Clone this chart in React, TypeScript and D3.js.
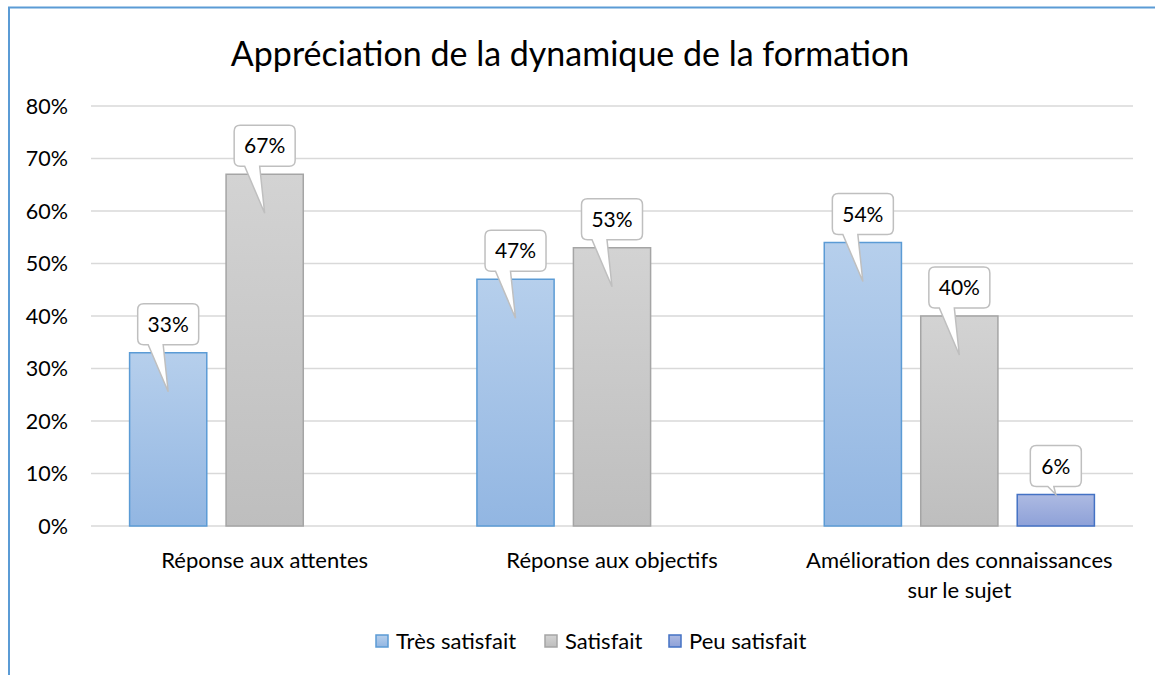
import * as d3 from "d3";

// values (percent)
const categories = [
  ["Réponse aux attentes"],
  ["Réponse aux objectifs"],
  ["Amélioration des connaissances", "sur le sujet"],
];
const series = ["Très satisfait", "Satisfait", "Peu satisfait"];
const tresSatisfait = [33, 47, 54];
const satisfait = [67, 53, 40];
const peuSatisfait = [null, null, 6];
const yTicks = [0, 10, 20, 30, 40, 50, 60, 70, 80];

const W = 1155;
const H = 675;
const FONT = "Lato, 'Open Sans', sans-serif";

const COLORS = [
  { top: "#b6cfec", bottom: "#92b6e2", stroke: "#5b9bd5" },
  { top: "#d3d3d3", bottom: "#bebebe", stroke: "#a5a5a5" },
  { top: "#adbae2", bottom: "#8ea1d8", stroke: "#4472c4" },
];

export default function App() {
  const plot = { left: 91, right: 1133, top: 106, bottom: 526 };
  const values = [tresSatisfait, satisfait, peuSatisfait];

  const x0 = d3
    .scaleBand<number>()
    .domain(d3.range(categories.length))
    .range([plot.left, plot.right])
    .padding(0);
  const x1 = d3
    .scaleBand<number>()
    .domain(d3.range(series.length))
    .range([0, x0.bandwidth()])
    .paddingInner(0.2)
    .paddingOuter(0.4);
  const y = d3.scaleLinear().domain([0, 80]).range([plot.bottom, plot.top]);

  const bars: { ci: number; si: number; v: number }[] = [];
  categories.forEach((_, ci) => {
    values.forEach((vals, si) => {
      const v = vals[ci];
      if (v != null) bars.push({ ci, si, v });
    });
  });

  return (
    <svg
      width={W}
      height={H}
      style={{ position: "absolute", left: 0, top: 0, background: "#fff" }}
      fontFamily={FONT}
    >
      <defs>
        {COLORS.map((c, i) => (
          <linearGradient key={i} id={`g${i}`} x1="0" y1="0" x2="0" y2="1">
            <stop offset="0" stopColor={c.top} />
            <stop offset="1" stopColor={c.bottom} />
          </linearGradient>
        ))}
      </defs>

      {/* chart frame */}
      <rect x={9} y={7.5} width={W + 20} height={H + 20} fill="none" stroke="#5b9bd5" strokeWidth={2} />

      <text x={570} y={66} textAnchor="middle" fontSize={34} fill="#000">
        Appréciation de la dynamique de la formation
      </text>

      {yTicks.map((t) => (
        <g key={t}>
          <line x1={plot.left} x2={plot.right} y1={y(t)} y2={y(t)} stroke="#d9d9d9" strokeWidth={1.5} />
          <text x={68} y={y(t)} dy="0.36em" textAnchor="end" fontSize={21.5} fill="#000">
            {t}%
          </text>
        </g>
      ))}

      {bars.map(({ ci, si, v }) => {
        const bx = x0(ci)! + x1(si)!;
        const bw = x1.bandwidth();
        return (
          <rect
            key={`b${ci}-${si}`}
            x={bx}
            y={y(v)}
            width={bw}
            height={y(0) - y(v)}
            fill={`url(#g${si})`}
            stroke={COLORS[si].stroke}
            strokeWidth={1.5}
          />
        );
      })}

      {bars.map(({ ci, si, v }) => {
        const cx = x0(ci)! + x1(si)! + x1.bandwidth() / 2;
        const top = y(v);
        const h = y(0) - top;
        const label = `${v}%`;
        const bw = label.length === 2 ? 51 : 61;
        const bh = 41;
        const bb = top - 8;
        const bt = bb - bh;
        const l = cx - bw / 2;
        const r = cx + bw / 2;
        const rad = 6;
        const tall = h > 60;
        const depth = tall ? 39 : 0;
        const t1 = tall ? cx - 20 : cx - 8;
        const t2 = tall ? cx - 5 : cx - 2;
        const path = [
          `M${l + rad},${bt}`,
          `H${r - rad}`,
          `Q${r},${bt} ${r},${bt + rad}`,
          `V${bb - rad}`,
          `Q${r},${bb} ${r - rad},${bb}`,
          `H${t2}`,
          `L${cx},${top + depth}`,
          `L${t1},${bb}`,
          `H${l + rad}`,
          `Q${l},${bb} ${l},${bb - rad}`,
          `V${bt + rad}`,
          `Q${l},${bt} ${l + rad},${bt}`,
          "Z",
        ].join(" ");
        return (
          <g key={`l${ci}-${si}`}>
            <path d={path} fill="#fff" stroke="#bfbfbf" strokeWidth={1.5} />
            <text x={cx} y={(bt + bb) / 2} dy="0.36em" textAnchor="middle" fontSize={21} fill="#000">
              {label}
            </text>
          </g>
        );
      })}

      {categories.map((lines, ci) => (
        <text key={ci} x={x0(ci)! + x0.bandwidth() / 2} y={560} textAnchor="middle" fontSize={22} fill="#000">
          {lines.map((ln, i) => (
            <tspan key={i} x={x0(ci)! + x0.bandwidth() / 2} dy={i === 0 ? "0.35em" : 30}>
              {ln}
            </tspan>
          ))}
        </text>
      ))}

      {series.map((s, si) => {
        const lx = [376, 545, 669][si];
        return (
          <g key={s}>
            <rect x={lx} y={635} width={12} height={12} fill={`url(#g${si})`} stroke={COLORS[si].stroke} strokeWidth={1.5} />
            <text x={lx + 20} y={641} dy="0.35em" fontSize={22} fill="#000">
              {s}
            </text>
          </g>
        );
      })}
    </svg>
  );
}
